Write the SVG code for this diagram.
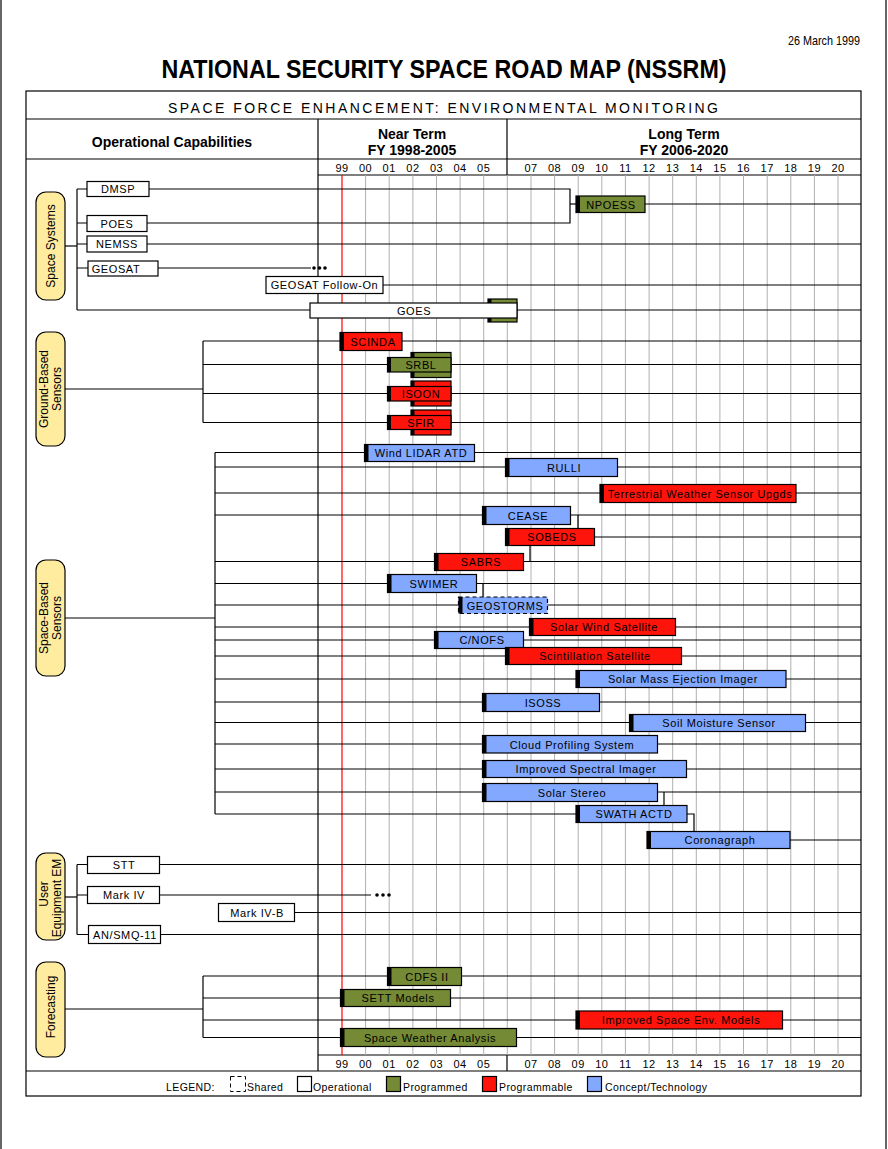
<svg xmlns="http://www.w3.org/2000/svg" width="888" height="1149" viewBox="0 0 888 1149">
<style>
text{font-family:"Liberation Sans",Arial,sans-serif;fill:#000}
.ln{stroke:#000;stroke-width:1.2;fill:none}
.grid{stroke:#b0b0b0;stroke-width:1}
.box{stroke:#000;stroke-width:1.2}
.op{fill:#fff}
.pg{fill:#748a35}
.pa{fill:#ff140c}
.ct{fill:#82a8ff}
.stub{fill:#000}
.lbl{font-size:11px;letter-spacing:0.6px;text-anchor:middle}
.yr{font-size:11px;letter-spacing:0.5px;text-anchor:middle}
.pill{fill:#ffec9f;stroke:#000;stroke-width:1.2}
.pt{font-size:12px;text-anchor:middle}
.hd{font-size:14px;font-weight:bold;text-anchor:middle}
.lg{font-size:10.5px;letter-spacing:0.4px}
</style>
<rect width="888" height="1149" fill="#fff"/>
<line x1="1" y1="0" x2="1" y2="1149" class="ln"/>
<line x1="886" y1="0" x2="886" y2="1149" class="ln"/>
<text x="860" y="45" font-size="13" text-anchor="end" textLength="72" lengthAdjust="spacingAndGlyphs">26 March 1999</text>
<text x="444" y="78" font-size="25" font-weight="bold" text-anchor="middle" textLength="565" lengthAdjust="spacingAndGlyphs">NATIONAL SECURITY SPACE ROAD MAP (NSSRM)</text>

<g id="frame">
<rect x="26" y="91" width="835" height="1005" class="ln"/>
<line x1="26" y1="119" x2="861" y2="119" class="ln"/>
<line x1="26" y1="159" x2="861" y2="159" class="ln"/>
<line x1="318" y1="175" x2="861" y2="175" class="ln"/>
<line x1="318" y1="1055" x2="861" y2="1055" class="ln"/>
<line x1="26" y1="1071" x2="861" y2="1071" class="ln"/>
<line x1="318" y1="119" x2="318" y2="1071" class="ln"/>
<line x1="507" y1="119" x2="507" y2="175" class="ln"/>
<line x1="507" y1="1055" x2="507" y2="1071" class="ln"/>
<text x="443" y="113" font-size="14" text-anchor="middle" textLength="550" lengthAdjust="spacing">SPACE FORCE ENHANCEMENT: ENVIRONMENTAL MONITORING</text>
<text x="172" y="147" class="hd">Operational Capabilities</text>
<text x="412" y="139" class="hd">Near Term</text>
<text x="412" y="155" class="hd">FY 1998-2005</text>
<text x="684" y="139" class="hd">Long Term</text>
<text x="684" y="155" class="hd">FY 2006-2020</text>
</g>

<g id="grid">
<g class="grid">
<line x1="365.6" y1="175" x2="365.6" y2="1055"/>
<line x1="389.2" y1="175" x2="389.2" y2="1055"/>
<line x1="412.9" y1="175" x2="412.9" y2="1055"/>
<line x1="436.5" y1="175" x2="436.5" y2="1055"/>
<line x1="460.1" y1="175" x2="460.1" y2="1055"/>
<line x1="483.7" y1="175" x2="483.7" y2="1055"/>
<line x1="507.3" y1="175" x2="507.3" y2="1055"/>
<line x1="531.0" y1="175" x2="531.0" y2="1055"/>
<line x1="554.6" y1="175" x2="554.6" y2="1055"/>
<line x1="578.2" y1="175" x2="578.2" y2="1055"/>
<line x1="601.8" y1="175" x2="601.8" y2="1055"/>
<line x1="625.4" y1="175" x2="625.4" y2="1055"/>
<line x1="649.1" y1="175" x2="649.1" y2="1055"/>
<line x1="672.7" y1="175" x2="672.7" y2="1055"/>
<line x1="696.3" y1="175" x2="696.3" y2="1055"/>
<line x1="719.9" y1="175" x2="719.9" y2="1055"/>
<line x1="743.5" y1="175" x2="743.5" y2="1055"/>
<line x1="767.2" y1="175" x2="767.2" y2="1055"/>
<line x1="790.8" y1="175" x2="790.8" y2="1055"/>
<line x1="814.4" y1="175" x2="814.4" y2="1055"/>
<line x1="838.0" y1="175" x2="838.0" y2="1055"/>
</g>
<line x1="342" y1="175" x2="342" y2="1055" stroke="#ff0000" stroke-width="1.2"/>
<g id="years-top">
<text x="342" y="172" class="yr">99</text><text x="365.6" y="172" class="yr">00</text><text x="389.2" y="172" class="yr">01</text><text x="412.9" y="172" class="yr">02</text><text x="436.5" y="172" class="yr">03</text><text x="460.1" y="172" class="yr">04</text><text x="483.7" y="172" class="yr">05</text><text x="531.0" y="172" class="yr">07</text><text x="554.6" y="172" class="yr">08</text><text x="578.2" y="172" class="yr">09</text><text x="601.8" y="172" class="yr">10</text><text x="625.4" y="172" class="yr">11</text><text x="649.1" y="172" class="yr">12</text><text x="672.7" y="172" class="yr">13</text><text x="696.3" y="172" class="yr">14</text><text x="719.9" y="172" class="yr">15</text><text x="743.5" y="172" class="yr">16</text><text x="767.2" y="172" class="yr">17</text><text x="790.8" y="172" class="yr">18</text><text x="814.4" y="172" class="yr">19</text><text x="838.0" y="172" class="yr">20</text>
</g>
<g id="years-bottom">
<text x="342" y="1068" class="yr">99</text><text x="365.6" y="1068" class="yr">00</text><text x="389.2" y="1068" class="yr">01</text><text x="412.9" y="1068" class="yr">02</text><text x="436.5" y="1068" class="yr">03</text><text x="460.1" y="1068" class="yr">04</text><text x="483.7" y="1068" class="yr">05</text><text x="531.0" y="1068" class="yr">07</text><text x="554.6" y="1068" class="yr">08</text><text x="578.2" y="1068" class="yr">09</text><text x="601.8" y="1068" class="yr">10</text><text x="625.4" y="1068" class="yr">11</text><text x="649.1" y="1068" class="yr">12</text><text x="672.7" y="1068" class="yr">13</text><text x="696.3" y="1068" class="yr">14</text><text x="719.9" y="1068" class="yr">15</text><text x="743.5" y="1068" class="yr">16</text><text x="767.2" y="1068" class="yr">17</text><text x="790.8" y="1068" class="yr">18</text><text x="814.4" y="1068" class="yr">19</text><text x="838.0" y="1068" class="yr">20</text>
</g>
</g>

<g id="connectors" class="ln">
<!-- Space Systems -->
<polyline points="65,246 77,246"/>
<polyline points="77,189 77,310"/>
<polyline points="77,189 570,189 570,223 77,223"/>
<polyline points="570,204 576,204"/>
<polyline points="645,204 861,204"/>
<polyline points="77,244 861,244"/>
<polyline points="77,268 311,268"/>
<polyline points="383,285 861,285"/>
<polyline points="77,310 861,310"/>
<!-- Ground-Based -->
<polyline points="65,389 203,389"/>
<polyline points="203,341 203,422.5"/>
<polyline points="203,341 861,341"/>
<polyline points="203,364.5 861,364.5"/>
<polyline points="203,393.5 861,393.5"/>
<polyline points="203,422.5 861,422.5"/>
<!-- Space-Based -->
<polyline points="65,618 215,618"/>
<polyline points="215,452.5 215,814"/>
<polyline points="215,452.5 861,452.5"/>
<polyline points="215,467 861,467"/>
<polyline points="215,493 861,493"/>
<polyline points="215,515 861,515"/>
<polyline points="578,515 578,528"/>
<polyline points="594,537 861,537"/>
<polyline points="530,545 530,561.5"/>
<polyline points="215,561.5 861,561.5"/>
<polyline points="215,583.5 861,583.5"/>
<polyline points="483,583.5 483,597"/>
<polyline points="215,605 861,605"/>
<polyline points="215,627 861,627"/>
<polyline points="215,640 861,640"/>
<polyline points="215,656 861,656"/>
<polyline points="215,679 861,679"/>
<polyline points="215,702 861,702"/>
<polyline points="215,722.5 861,722.5"/>
<polyline points="215,744 861,744"/>
<polyline points="215,769 861,769"/>
<polyline points="215,792 861,792"/>
<polyline points="664,792 664,805"/>
<polyline points="215,814 576,814"/>
<polyline points="687,814 694,814 694,831"/>
<polyline points="790,840 861,840"/>
<!-- User Equipment -->
<polyline points="65,897 77,897"/>
<polyline points="77,864.5 77,934.5"/>
<polyline points="77,864.5 861,864.5"/>
<polyline points="77,895 371,895"/>
<polyline points="295,912.5 861,912.5"/>
<polyline points="77,934.5 861,934.5"/>
<!-- Forecasting -->
<polyline points="65,1009 203,1009"/>
<polyline points="203,976 203,1037.5"/>
<polyline points="203,976 861,976"/>
<polyline points="203,998 861,998"/>
<polyline points="203,1020 861,1020"/>
<polyline points="203,1037.5 861,1037.5"/>
</g>
<g id="ellipses">
<circle cx="314" cy="268" r="1.8"/><circle cx="319.5" cy="268" r="1.8"/><circle cx="325" cy="268" r="1.8"/>
<circle cx="377" cy="895" r="1.8"/><circle cx="383" cy="895" r="1.8"/><circle cx="389" cy="895" r="1.8"/>
</g>

<!-- Pills -->
<g id="pill-space-systems"><rect x="36" y="192" width="29" height="108" rx="10" class="pill"/><text class="pt" transform="translate(54.5,246) rotate(-90)">Space Systems</text></g>
<g id="pill-ground-based"><rect x="36" y="332" width="29" height="114" rx="10" class="pill"/><text class="pt" transform="translate(48,389) rotate(-90)">Ground-Based</text><text class="pt" transform="translate(61,389) rotate(-90)">Sensors</text></g>
<g id="pill-space-based"><rect x="36" y="560" width="29" height="116" rx="10" class="pill"/><text class="pt" transform="translate(48,618) rotate(-90)">Space-Based</text><text class="pt" transform="translate(61,618) rotate(-90)">Sensors</text></g>
<g id="pill-user-equipment"><rect x="36" y="853" width="29" height="87" rx="10" class="pill"/><text class="pt" transform="translate(48,894) rotate(-90)">User</text><text class="pt" transform="translate(61,898) rotate(-90)">Equipment EM</text></g>
<g id="pill-forecasting"><rect x="36" y="962" width="29" height="95" rx="10" class="pill"/><text class="pt" transform="translate(54.5,1007) rotate(-90)">Forecasting</text></g>

<!-- Operational boxes -->
<g id="n-dmsp"><rect x="87" y="181.5" width="62" height="15" class="box op"/><text x="118" y="193" class="lbl">DMSP</text></g>
<g id="n-poes"><rect x="87" y="215.5" width="60" height="16" class="box op"/><text x="117" y="227.5" class="lbl">POES</text></g>
<g id="n-nemss"><rect x="87" y="236" width="60" height="16" class="box op"/><text x="117" y="248" class="lbl">NEMSS</text></g>
<g id="n-geosat"><rect x="88" y="261" width="70" height="15" class="box op"/><text x="116" y="272.5" class="lbl">GEOSAT</text></g>
<g id="n-geosat-fo"><rect x="266" y="276.5" width="117" height="17" class="box op"/><text x="324.5" y="289" class="lbl">GEOSAT Follow-On</text></g>
<g id="n-goes"><rect x="488" y="299" width="29" height="23" class="box pg"/><rect x="488" y="299" width="3.5" height="23" class="stub"/><rect x="310" y="303" width="207" height="15" class="box op"/><text x="414" y="314.5" class="lbl">GOES</text></g>
<g id="n-npoess"><rect x="576" y="196" width="69" height="16.5" class="box pg"/><rect x="576" y="196" width="4" height="16.5" class="stub"/><text x="611" y="208.5" class="lbl">NPOESS</text></g>

<!-- Ground-based -->
<g id="n-scinda"><rect x="340" y="332.5" width="62" height="18" class="box pa"/><rect x="340" y="332.5" width="4" height="18" class="stub"/><text x="373" y="345.5" class="lbl">SCINDA</text></g>
<g id="n-srbl"><rect x="411" y="352.5" width="40" height="25" class="box pg"/><rect x="411" y="352.5" width="3.5" height="25" class="stub"/><rect x="387.5" y="357.5" width="63.5" height="14.5" class="box pg"/><rect x="387.5" y="357.5" width="3.5" height="14.5" class="stub"/><text x="421" y="368.5" class="lbl">SRBL</text></g>
<g id="n-isoon"><rect x="411" y="381" width="40" height="25" class="box pa"/><rect x="411" y="381" width="3.5" height="25" class="stub"/><rect x="387.5" y="386.5" width="63.5" height="14.5" class="box pa"/><rect x="387.5" y="386.5" width="3.5" height="14.5" class="stub"/><text x="421" y="397.5" class="lbl">ISOON</text></g>
<g id="n-sfir"><rect x="411" y="410" width="40" height="25" class="box pa"/><rect x="411" y="410" width="3.5" height="25" class="stub"/><rect x="387.5" y="415.5" width="63.5" height="14" class="box pa"/><rect x="387.5" y="415.5" width="3.5" height="14" class="stub"/><text x="421" y="426.5" class="lbl">SFIR</text></g>

<!-- Space-based -->
<g id="n-windlidar"><rect x="364.5" y="444.5" width="110" height="17" class="box ct"/><rect x="364.5" y="444.5" width="4" height="17" class="stub"/><text x="421" y="457" class="lbl">Wind LIDAR ATD</text></g>
<g id="n-rulli"><rect x="505.5" y="458.5" width="112" height="18" class="box ct"/><rect x="505.5" y="458.5" width="4" height="18" class="stub"/><text x="564" y="471.5" class="lbl">RULLI</text></g>
<g id="n-terrestrial"><rect x="600" y="484.5" width="196" height="18" class="box pa"/><rect x="600" y="484.5" width="4" height="18" class="stub"/><text x="700" y="497.5" class="lbl">Terrestrial Weather Sensor Upgds</text></g>
<g id="n-cease"><rect x="482.5" y="506.5" width="88" height="18" class="box ct"/><rect x="482.5" y="506.5" width="4" height="18" class="stub"/><text x="528" y="519.5" class="lbl">CEASE</text></g>
<g id="n-sobeds"><rect x="505.5" y="528.5" width="89" height="17" class="box pa"/><rect x="505.5" y="528.5" width="4" height="17" class="stub"/><text x="552" y="541" class="lbl">SOBEDS</text></g>
<g id="n-sabrs"><rect x="434.5" y="553.5" width="89" height="17" class="box pa"/><rect x="434.5" y="553.5" width="4" height="17" class="stub"/><text x="481" y="566" class="lbl">SABRS</text></g>
<g id="n-swimer"><rect x="387.5" y="574.5" width="89" height="18" class="box ct"/><rect x="387.5" y="574.5" width="4" height="18" class="stub"/><text x="434" y="587.5" class="lbl">SWIMER</text></g>
<g id="n-geostorms"><rect x="458.5" y="597" width="89" height="16.5" class="ct"/><rect x="458.5" y="597" width="89" height="16.5" fill="none" stroke="#000" stroke-width="1.2" stroke-dasharray="4,3"/><rect x="458.5" y="597" width="4" height="16.5" class="stub"/><text x="505" y="609.5" class="lbl">GEOSTORMS</text></g>
<g id="n-solarwind"><rect x="529.5" y="618.5" width="146" height="17" class="box pa"/><rect x="529.5" y="618.5" width="4" height="17" class="stub"/><text x="604" y="631" class="lbl">Solar Wind Satellite</text></g>
<g id="n-cnofs"><rect x="434.5" y="631.5" width="89" height="17" class="box ct"/><rect x="434.5" y="631.5" width="4" height="17" class="stub"/><text x="482" y="644" class="lbl">C/NOFS</text></g>
<g id="n-scint"><rect x="505.5" y="647.5" width="176" height="17" class="box pa"/><rect x="505.5" y="647.5" width="4" height="17" class="stub"/><text x="595" y="660" class="lbl">Scintillation Satellite</text></g>
<g id="n-smei"><rect x="576" y="670.5" width="210" height="17" class="box ct"/><rect x="576" y="670.5" width="4" height="17" class="stub"/><text x="683" y="683" class="lbl">Solar Mass Ejection Imager</text></g>
<g id="n-isoss"><rect x="482.5" y="693.5" width="117" height="18" class="box ct"/><rect x="482.5" y="693.5" width="4" height="18" class="stub"/><text x="543" y="706.5" class="lbl">ISOSS</text></g>
<g id="n-soil"><rect x="629.5" y="714.5" width="176" height="17" class="box ct"/><rect x="629.5" y="714.5" width="4" height="17" class="stub"/><text x="719" y="727" class="lbl">Soil Moisture Sensor</text></g>
<g id="n-cloud"><rect x="482.5" y="735.5" width="175" height="17.5" class="box ct"/><rect x="482.5" y="735.5" width="4" height="17.5" class="stub"/><text x="572" y="748.5" class="lbl">Cloud Profiling System</text></g>
<g id="n-isi"><rect x="482.5" y="760.5" width="204" height="17" class="box ct"/><rect x="482.5" y="760.5" width="4" height="17" class="stub"/><text x="586" y="773" class="lbl">Improved Spectral Imager</text></g>
<g id="n-stereo"><rect x="482.5" y="783.5" width="175" height="18" class="box ct"/><rect x="482.5" y="783.5" width="4" height="18" class="stub"/><text x="572" y="796.5" class="lbl">Solar Stereo</text></g>
<g id="n-swath"><rect x="576" y="805.5" width="111" height="17" class="box ct"/><rect x="576" y="805.5" width="4" height="17" class="stub"/><text x="634" y="818" class="lbl">SWATH ACTD</text></g>
<g id="n-corona"><rect x="647" y="831.5" width="143" height="17" class="box ct"/><rect x="647" y="831.5" width="4" height="17" class="stub"/><text x="720" y="844" class="lbl">Coronagraph</text></g>

<!-- User Equipment -->
<g id="n-stt"><rect x="87.5" y="856.5" width="72" height="17" class="box op"/><text x="124" y="869" class="lbl">STT</text></g>
<g id="n-markiv"><rect x="87.5" y="886.5" width="72" height="17" class="box op"/><text x="124" y="899" class="lbl">Mark IV</text></g>
<g id="n-markivb"><rect x="218.5" y="903.5" width="76" height="18" class="box op"/><text x="257" y="916.5" class="lbl">Mark IV-B</text></g>
<g id="n-ansmq"><rect x="88.5" y="925.5" width="72" height="18" class="box op"/><text x="125" y="938.5" class="lbl">AN/SMQ-11</text></g>

<!-- Forecasting -->
<g id="n-cdfs"><rect x="387.5" y="967.5" width="74" height="18" class="box pg"/><rect x="387.5" y="967.5" width="4" height="18" class="stub"/><text x="427" y="980.5" class="lbl">CDFS II</text></g>
<g id="n-sett"><rect x="340.5" y="989.5" width="110" height="17" class="box pg"/><rect x="340.5" y="989.5" width="4" height="17" class="stub"/><text x="398" y="1002" class="lbl">SETT Models</text></g>
<g id="n-isem"><rect x="576" y="1011" width="206.5" height="18" class="box pa"/><rect x="576" y="1011" width="4" height="18" class="stub"/><text x="681" y="1024" class="lbl">Improved Space Env. Models</text></g>
<g id="n-swa"><rect x="340.5" y="1028.5" width="176" height="18" class="box pg"/><rect x="340.5" y="1028.5" width="4" height="18" class="stub"/><text x="430" y="1041.5" class="lbl">Space Weather Analysis</text></g>

<!-- Legend -->
<g id="legend">
<text x="166" y="1091" class="lg">LEGEND:</text>
<rect x="230.5" y="1076.5" width="15" height="15" fill="none" stroke="#000" stroke-width="1" stroke-dasharray="4,3"/>
<text x="247" y="1091" class="lg">Shared</text>
<rect x="297.5" y="1076.5" width="14" height="15" class="box op"/>
<text x="313" y="1091" class="lg">Operational</text>
<rect x="386.5" y="1076.5" width="14" height="15" class="box pg"/>
<text x="403" y="1091" class="lg">Programmed</text>
<rect x="482.5" y="1076.5" width="14" height="15" class="box pa"/>
<text x="499" y="1091" class="lg">Programmable</text>
<rect x="587.5" y="1076.5" width="14" height="15" class="box ct"/>
<text x="605" y="1091" class="lg">Concept/Technology</text>
</g>
</svg>
